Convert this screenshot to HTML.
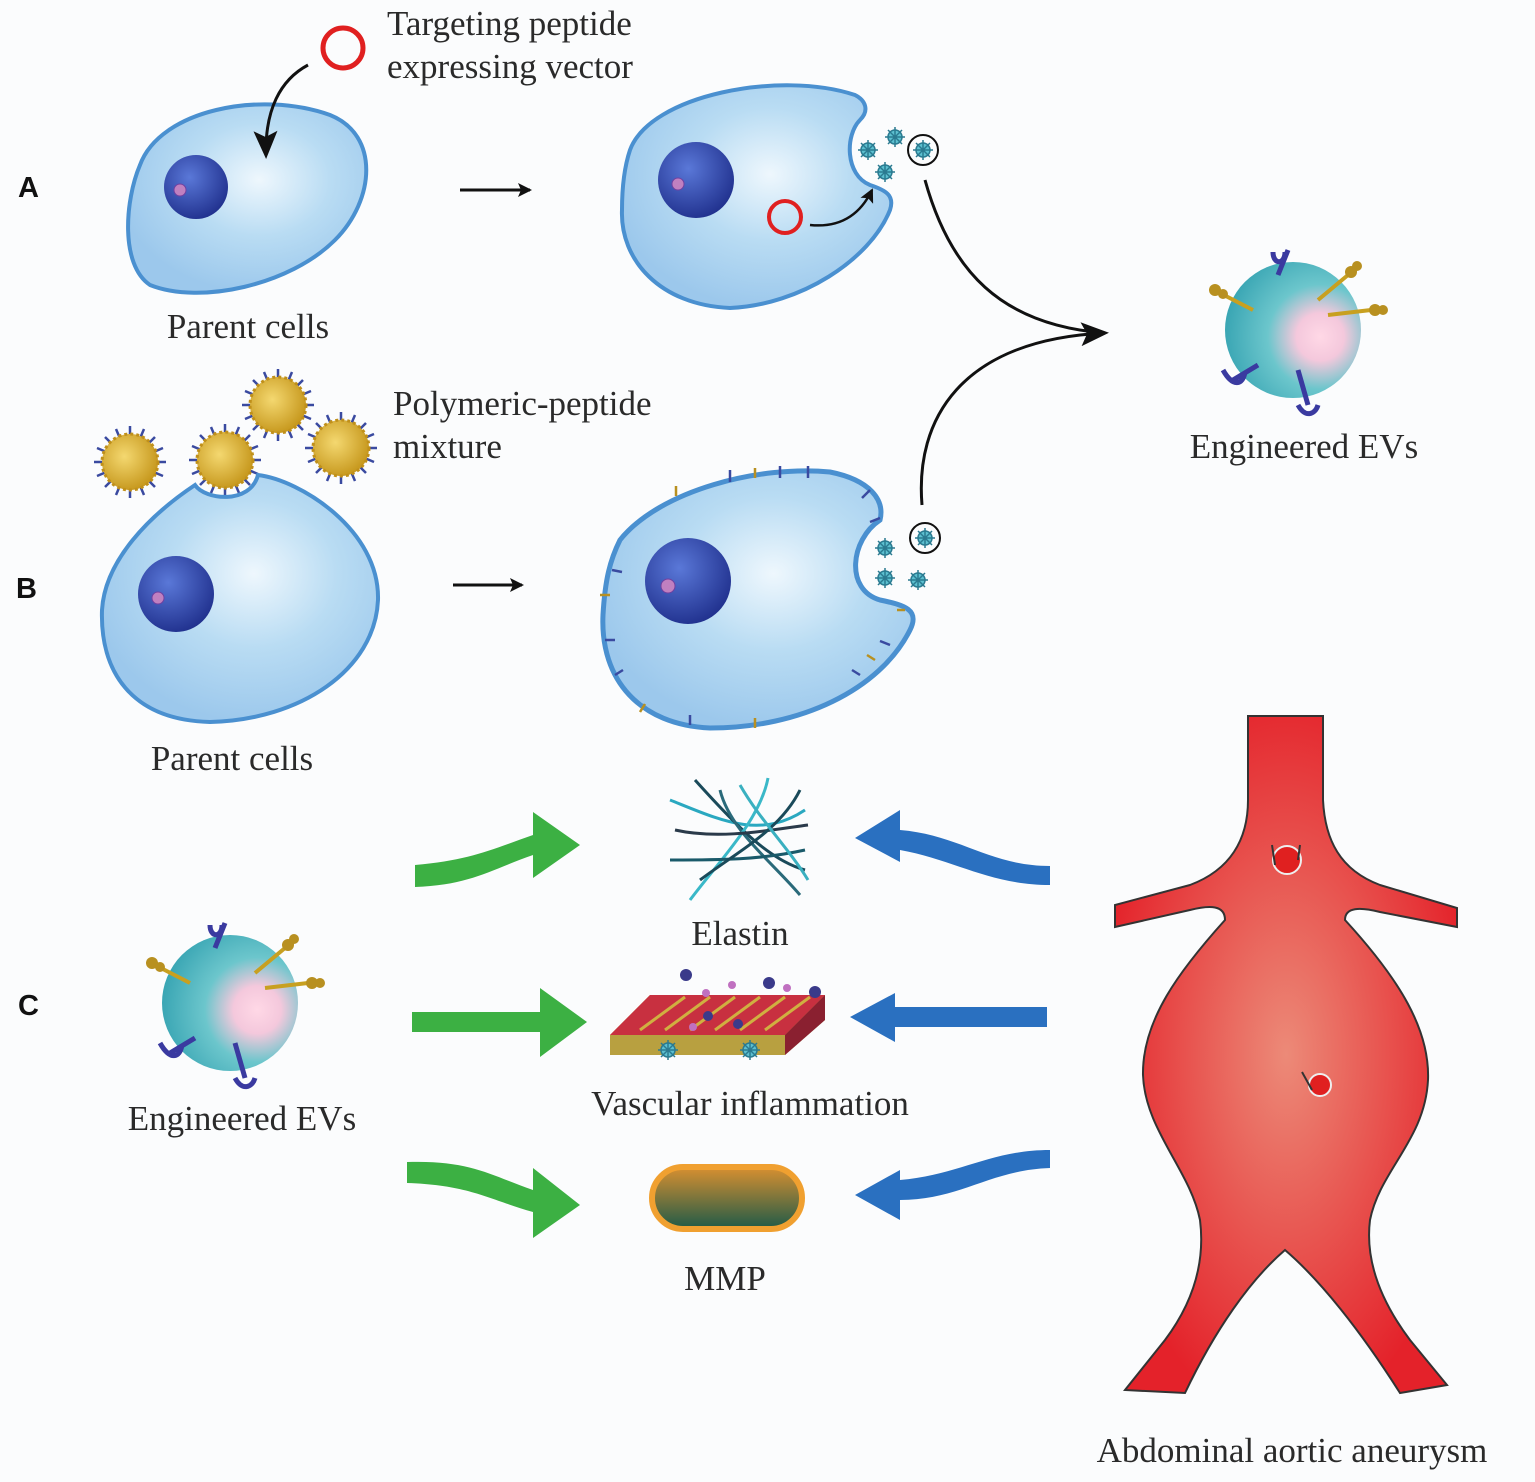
<!DOCTYPE html>
<html><head><meta charset="utf-8"><style>
html,body{margin:0;padding:0;background:#fbfcfd;}
svg{display:block}
.t{font-family:"Liberation Serif",serif;font-size:35px;fill:#2a2a2a}
.l{font-family:"Liberation Sans",sans-serif;font-size:29px;font-weight:bold;fill:#111}
</style></head><body>
<svg width="1535" height="1482" viewBox="0 0 1535 1482" xmlns="http://www.w3.org/2000/svg">
<defs>
<radialGradient id="cell" cx="0.55" cy="0.4" r="0.6"><stop offset="0" stop-color="#eef7fd"/><stop offset="0.5" stop-color="#b9dcf3"/><stop offset="1" stop-color="#9cc8ec"/></radialGradient>
<radialGradient id="nuc" cx="0.4" cy="0.35" r="0.7"><stop offset="0" stop-color="#5a78d8"/><stop offset="1" stop-color="#1f2f8c"/></radialGradient>
<radialGradient id="ev" cx="0.7" cy="0.55" r="0.7"><stop offset="0" stop-color="#ffd8e6"/><stop offset="0.25" stop-color="#f4c8dc"/><stop offset="0.55" stop-color="#6cc6cc"/><stop offset="1" stop-color="#3aa6b4"/></radialGradient>
<radialGradient id="ao" cx="0.5" cy="0.5" r="0.55"><stop offset="0" stop-color="#ec8a78"/><stop offset="1" stop-color="#e4222a"/></radialGradient>
<radialGradient id="np" cx="0.4" cy="0.4" r="0.6"><stop offset="0" stop-color="#f4d870"/><stop offset="1" stop-color="#c89a20"/></radialGradient>
<linearGradient id="mmp" x1="0" y1="0" x2="0" y2="1"><stop offset="0" stop-color="#d89030"/><stop offset="1" stop-color="#1e5a48"/></linearGradient>
<marker id="ah" markerWidth="14" markerHeight="14" refX="12" refY="7" orient="auto" markerUnits="userSpaceOnUse"><path d="M0,0 L14,7 L0,14 L3,7 Z" fill="#111"/></marker>
<marker id="ahb" markerWidth="28" markerHeight="24" refX="24" refY="12" orient="auto" markerUnits="userSpaceOnUse"><path d="M0,0 L28,12 L0,24 L6,12 Z" fill="#111"/></marker>
<g id="evs"><circle r="7" fill="#5cc0d0" stroke="#2a7a90" stroke-width="1.5"/><path d="M-10,0H10M0,-10V10M-7,-7L7,7M-7,7L7,-7" stroke="#2a7a90" stroke-width="1.5"/></g>
<g id="nano"><g stroke="#3a4aa0" stroke-width="2.5">
<path d="M0,-36V36M-36,0H36M-25,-25L25,25M-25,25L25,-25M-14,-33L14,33M14,-33L-14,33M-33,-14L33,14M-33,14L33,-14"/></g>
<circle r="28" fill="url(#np)" stroke="#c0901a" stroke-width="3" stroke-dasharray="3 3"/></g>
<g id="bigev">
<circle r="68" fill="url(#ev)"/>
<path d="M-15,-55 L-5,-80 M-20,-78 C-20,-65 -8,-65 -8,-78" stroke="#3a3aa0" stroke-width="5" fill="none"/>
<path d="M-35,35 L-60,50 M-70,40 C-60,58 -50,55 -48,42" stroke="#3a3aa0" stroke-width="5" fill="none"/>
<path d="M5,40 L15,75 M5,75 C12,88 22,85 25,75" stroke="#3a3aa0" stroke-width="5" fill="none"/>
<path d="M-40,-20 L-75,-38 M25,-30 L55,-55 M35,-15 L78,-20" stroke="#c8a020" stroke-width="4"/>
<circle cx="-78" cy="-40" r="6" fill="#b89020"/><circle cx="-70" cy="-36" r="5" fill="#b89020"/>
<circle cx="58" cy="-58" r="6" fill="#b89020"/><circle cx="64" cy="-64" r="5" fill="#b89020"/>
<circle cx="82" cy="-20" r="6" fill="#b89020"/><circle cx="90" cy="-20" r="5" fill="#b89020"/>
</g>
</defs>

<text class="l" x="18" y="197">A</text>
<text class="l" x="16" y="598">B</text>
<text class="l" x="18" y="1015">C</text>

<text class="t" x="387" y="35">Targeting peptide</text>
<text class="t" x="387" y="78">expressing vector</text>
<circle cx="343" cy="48" r="20" fill="none" stroke="#e02020" stroke-width="5"/>

<!-- Cell A1 -->
<path d="M140,165 C160,110 260,90 330,115 C380,135 375,200 335,240 C290,285 200,305 150,285 C120,265 125,200 140,165 Z" fill="url(#cell)" stroke="#4a90d0" stroke-width="4"/>
<circle cx="196" cy="187" r="32" fill="url(#nuc)"/><circle cx="180" cy="190" r="6" fill="#c080c0" stroke="#7040a0"/>
<path d="M308,65 C280,80 265,110 266,155" stroke="#111" stroke-width="3" fill="none" marker-end="url(#ahb)"/>
<text class="t" x="248" y="338" text-anchor="middle">Parent cells</text>
<path d="M460,190 H530" stroke="#111" stroke-width="3" marker-end="url(#ah)"/>

<!-- Cell A2 -->
<path d="M630,150 C650,95 780,70 855,95 C865,100 870,110 860,120 C845,135 845,175 870,185 C885,190 895,195 890,210 C870,260 800,305 730,308 C660,305 620,260 622,210 C622,185 625,165 630,150 Z" fill="url(#cell)" stroke="#4a90d0" stroke-width="4"/>
<circle cx="696" cy="180" r="38" fill="url(#nuc)"/><circle cx="678" cy="184" r="6" fill="#c080c0" stroke="#7040a0"/>
<circle cx="785" cy="217" r="16" fill="none" stroke="#e02020" stroke-width="4"/>
<path d="M810,225 C840,228 860,215 872,190" stroke="#111" stroke-width="2.5" fill="none" marker-end="url(#ah)"/>
<use href="#evs" x="868" y="150"/><use href="#evs" x="895" y="137"/><use href="#evs" x="885" y="172"/>
<circle cx="923" cy="150" r="15" fill="none" stroke="#111" stroke-width="2"/><use href="#evs" x="923" y="150"/>

<path d="M925,180 C950,270 1000,325 1105,333" stroke="#111" stroke-width="3" fill="none"/>
<path d="M922,505 C915,420 960,340 1105,333" stroke="#111" stroke-width="3" fill="none" marker-end="url(#ahb)"/>

<use href="#bigev" x="1293" y="330"/>
<text class="t" x="1304" y="458" text-anchor="middle">Engineered EVs</text>

<!-- B -->
<use href="#nano" x="130" y="462"/><use href="#nano" x="225" y="460"/><use href="#nano" x="278" y="405"/><use href="#nano" x="341" y="448"/>
<text class="t" x="393" y="415">Polymeric-peptide</text>
<text class="t" x="393" y="458">mixture</text>
<path d="M195,485 C205,500 250,505 258,475 C300,480 380,530 378,600 C375,670 300,720 210,722 C130,720 100,670 102,610 C105,560 150,515 195,485 Z" fill="url(#cell)" stroke="#4a90d0" stroke-width="4"/>
<circle cx="176" cy="594" r="38" fill="url(#nuc)"/><circle cx="158" cy="598" r="6" fill="#c080c0" stroke="#7040a0"/>
<text class="t" x="232" y="770" text-anchor="middle">Parent cells</text>
<path d="M453,585 H522" stroke="#111" stroke-width="3" marker-end="url(#ah)"/>

<path d="M620,540 C660,490 760,465 830,472 C870,480 885,500 880,520 C850,540 845,590 880,600 C905,605 920,610 910,630 C880,690 800,728 710,728 C640,725 600,680 603,615 C605,580 610,560 620,540 Z" fill="url(#cell)" stroke="#4a90d0" stroke-width="5"/>
<g stroke="#3a4aa0" stroke-width="2.5">
<path d="M730,470v12M780,466v12M808,466v12M870,490l-8,8M880,518l-10,4M612,570l10,2M605,640l10,0M615,675l8,-5M690,725v-10M860,675l-8,-5M890,645l-10,-4"/></g>
<g stroke="#b89020" stroke-width="2.5"><path d="M676,486v10M755,468v10M600,595h10M640,712l5,-8M755,728v-10M875,660l-8,-5M905,610l-8,0"/></g>
<circle cx="688" cy="581" r="43" fill="url(#nuc)"/><circle cx="668" cy="586" r="7" fill="#c080c0" stroke="#7040a0"/>
<use href="#evs" x="885" y="548"/><use href="#evs" x="885" y="578"/><use href="#evs" x="918" y="580"/>
<circle cx="925" cy="538" r="15" fill="none" stroke="#111" stroke-width="2"/><use href="#evs" x="925" y="538"/>

<!-- C -->
<use href="#bigev" x="230" y="1003"/>
<text class="t" x="242" y="1130" text-anchor="middle">Engineered EVs</text>

<g fill="#3cb043">
<path d="M415,865 C470,860 490,850 533,835 L533,812 L580,845 L533,878 L533,855 C490,870 470,885 415,887 Z"/>
<path d="M412,1012 H540 V988 L587,1022 L540,1057 V1032 H412 Z"/>
<path d="M407,1162 C470,1160 490,1175 533,1190 L533,1168 L580,1205 L533,1238 L533,1212 C490,1200 470,1185 407,1183 Z"/>
</g>
<g fill="#2a70c0">
<path d="M1050,866 C990,866 960,835 900,830 L900,810 L855,838 L900,862 L900,850 C955,860 990,885 1050,885 Z"/>
<path d="M1047,1007 H895 V993 L850,1017 L895,1042 V1027 H1047 Z"/>
<path d="M1050,1150 C990,1150 960,1175 900,1180 L900,1170 L855,1195 L900,1220 L900,1200 C960,1200 990,1170 1050,1168 Z"/>
</g>

<!-- Elastin -->
<g stroke-width="3" fill="none">
<path d="M670,800 C720,820 760,840 805,810" stroke="#2aa8c0"/>
<path d="M695,780 C740,830 770,860 805,870" stroke="#1a4a5a"/>
<path d="M720,790 C730,830 770,860 800,895" stroke="#2a6a7a"/>
<path d="M690,900 C720,860 760,820 768,778" stroke="#3ab8c8"/>
<path d="M670,860 C720,860 760,860 805,850" stroke="#1a5a6a"/>
<path d="M675,830 C720,840 770,830 808,825" stroke="#2a3a4a"/>
<path d="M700,880 C740,850 780,830 800,790" stroke="#1a4a5a"/>
<path d="M740,785 C760,820 790,850 808,880" stroke="#3ab0c0"/>
</g>
<text class="t" x="740" y="945" text-anchor="middle">Elastin</text>

<!-- Vascular inflammation -->
<path d="M610,1035 L650,995 L825,995 L825,1020 L785,1055 L610,1055 Z" fill="#b8a040"/>
<path d="M610,1035 L650,995 L825,995 L785,1035 Z" fill="#c83040"/>
<path d="M785,1035 L825,995 L825,1020 L785,1055 Z" fill="#8a2030"/>
<g stroke="#d0b040" stroke-width="3"><path d="M640,1030L685,997M665,1030L710,997M690,1030L735,997M715,1030L760,997M740,1030L785,997M765,1030L810,997"/></g>
<g fill="#3a3a8a"><circle cx="686" cy="975" r="6"/><circle cx="769" cy="983" r="6"/><circle cx="815" cy="992" r="6"/><circle cx="708" cy="1016" r="5"/><circle cx="738" cy="1024" r="5"/></g>
<g fill="#c070c0"><circle cx="706" cy="993" r="4"/><circle cx="732" cy="985" r="4"/><circle cx="787" cy="988" r="4"/><circle cx="693" cy="1027" r="4"/></g>
<use href="#evs" x="668" y="1050"/><use href="#evs" x="750" y="1050"/>
<text class="t" x="750" y="1115" text-anchor="middle">Vascular inflammation</text>

<rect x="652" y="1167" width="150" height="62" rx="31" fill="url(#mmp)" stroke="#f0a030" stroke-width="6"/>
<text class="t" x="725" y="1290" text-anchor="middle">MMP</text>

<!-- Aorta -->
<path d="M1248,716 L1323,716 L1323,800 C1325,840 1340,870 1380,885 L1457,908 L1457,927 L1380,912 C1360,907 1345,907 1345,920 C1400,980 1430,1030 1428,1080 C1425,1140 1380,1170 1370,1220 C1365,1260 1380,1300 1410,1340 L1447,1385 L1400,1393 C1360,1330 1320,1280 1285,1250 C1250,1280 1215,1330 1185,1393 L1125,1390 L1165,1340 C1195,1300 1205,1260 1200,1220 C1190,1170 1145,1130 1143,1075 C1142,1020 1180,970 1225,920 C1225,905 1210,905 1190,910 L1115,927 L1115,905 L1190,885 C1230,870 1248,840 1248,800 Z" fill="url(#ao)" stroke="#333" stroke-width="2"/>
<circle cx="1287" cy="860" r="14" fill="#e02020" stroke="#eee" stroke-width="2"/>
<path d="M1272,845 L1275,865 M1300,845 L1298,860" stroke="#333" stroke-width="2"/>
<circle cx="1320" cy="1085" r="11" fill="#e02020" stroke="#eee" stroke-width="2"/>
<path d="M1302,1072 L1312,1090" stroke="#333" stroke-width="2"/>
<text class="t" x="1292" y="1462" text-anchor="middle">Abdominal aortic aneurysm</text>
</svg>
</body></html>
